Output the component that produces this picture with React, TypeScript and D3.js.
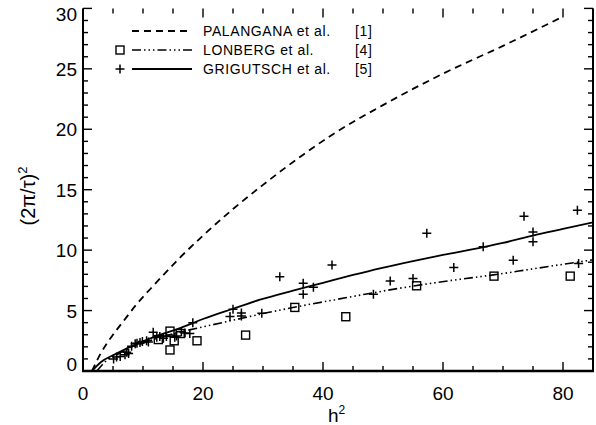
import React from "react";
import * as d3 from "d3";

const W = 596;
const H = 425;

const xMajorTicks = [0, 20, 40, 60, 80];
const yMajorTicks = [0, 5, 10, 15, 20, 25, 30];
const xMinorTicks = d3.range(0, 86, 5);
const yMinorTicks = d3.range(0, 31, 1);

const legendNames = ["PALANGANA et al.", "LONBERG et al.", "GRIGUTSCH et al."];
const legendRefs = ["[1]", "[4]", "[5]"];

// Palangana et al. fit curve (h^2, (2pi/tau)^2)
const palanganaCurve: [number, number][] = [
  [1.5, 0], [3, 1.5], [4, 2.3], [5, 3.0], [6.7, 4.1], [8.9, 5.5], [12, 7.2], [16, 9.3],
  [20, 11.2], [25, 13.4], [30, 15.4], [36.7, 17.9], [42, 19.7], [50, 22.0],
  [60, 24.6], [70, 26.9], [79.5, 29.2],
];

// Lonberg et al. fit curve
const lonbergCurve: [number, number][] = [
  [2.3, 0], [4, 0.9], [6, 1.45], [8, 1.95], [10, 2.3], [13, 2.8], [16, 3.2],
  [20, 3.65], [25, 4.2], [30, 4.75], [35, 5.25], [41.7, 5.87],
  [47, 6.35], [52.8, 6.85], [58, 7.25], [63, 7.6], [68.4, 7.95], [75, 8.45], [85, 9.2],
];

// Grigutsch et al. fit curve
const grigutschCurve: [number, number][] = [
  [1.5, 0], [3, 0.75], [5, 1.3], [7, 1.8], [9.5, 2.35], [12, 2.85], [16.2, 3.55],
  [20, 4.3], [25, 5.15], [29.5, 5.9], [35, 6.65], [40, 7.3], [45, 7.95],
  [49.5, 8.5], [55, 9.1], [60, 9.6], [66.7, 10.25], [70, 10.6], [75, 11.2],
  [80, 11.75], [85, 12.3],
];

// Lonberg et al. measurements (squares)
const lonbergH2 = [12.55, 14.5, 14.5, 15.2, 16.2, 19.0, 27.1, 35.3, 43.8, 55.6, 68.5, 81.2];
const lonbergY = [2.6, 3.3, 1.74, 2.5, 3.1, 2.5, 2.97, 5.26, 4.49, 7.05, 7.85, 7.85];

// Grigutsch et al. measurements (pluses)
const grigutschH2 = [
  5.1, 5.6, 6.2, 7.0, 7.3, 7.6, 8.1, 8.7, 9.0, 9.5, 9.9, 10.6, 10.9, 11.7, 12.3,
  12.8, 13.4, 13.9, 15.3, 15.6, 16.4, 17.0, 17.8, 18.3, 24.5, 25.0, 26.4, 26.4,
  29.8, 32.8, 36.7, 36.7, 38.4, 41.5, 48.4, 51.2, 55.0, 57.3, 61.8, 66.7, 71.7,
  73.5, 75.0, 75.0, 82.4, 82.6,
];
const grigutschY = [
  1.0, 1.15, 1.2, 1.35, 1.55, 1.45, 2.05, 2.25, 2.3, 2.35, 2.45, 2.5, 2.4, 3.2, 2.8,
  2.85, 2.7, 2.85, 2.8, 2.9, 3.25, 3.15, 3.1, 4.0, 4.5, 5.1, 4.55, 4.8,
  4.77, 7.8, 7.25, 6.36, 6.92, 8.76, 6.36, 7.45, 7.66, 11.4, 8.57, 10.27, 9.17,
  12.8, 11.5, 10.7, 13.3, 8.9,
];

export default function App() {
  const left = 83;
  const right = 593;
  const top = 8.4;
  const bottom = 371;
  const x = d3.scaleLinear().domain([0, 85]).range([left, right]);
  const y = d3.scaleLinear().domain([0, 30]).range([bottom, top]);

  const line = d3
    .line<[number, number]>()
    .x((d) => x(d[0]))
    .y((d) => y(d[1]))
    .curve(d3.curveMonotoneX);

  const font = "'Liberation Sans', Arial, sans-serif";
  const majorLen = 9;
  const minorLen = 5;

  const plusPath = (cx: number, cy: number, s: number) =>
    `M${cx - s},${cy}H${cx + s}M${cx},${cy - s}V${cy + s}`;

  return (
    <svg
      width={W}
      height={H}
      viewBox={`0 0 ${W} ${H}`}
      style={{ position: "absolute", left: 0, top: 0, background: "#fff" }}
    >
      <defs>
        <clipPath id="plot">
          <rect x={left} y={0} width={right - left} height={bottom} />
        </clipPath>
      </defs>
      <rect x={0} y={0} width={W} height={H} fill="#fff" />

      {/* curves */}
      <g clipPath="url(#plot)" fill="none" stroke="#000">
        <path d={line(palanganaCurve) || ""} strokeWidth={1.8} strokeDasharray="7,5" />
        <path d={line(lonbergCurve) || ""} strokeWidth={1.6} strokeDasharray="9,3,1.5,3,1.5,3,1.5,3" />
        <path d={line(grigutschCurve) || ""} strokeWidth={1.8} />
      </g>

      {/* squares */}
      <g fill="none" stroke="#000" strokeWidth={1.4}>
        {lonbergH2.map((h, i) => (
          <rect key={i} x={x(h) - 4} y={y(lonbergY[i]) - 4} width={8} height={8} />
        ))}
      </g>
      {/* pluses */}
      <g fill="none" stroke="#000" strokeWidth={1.5}>
        {grigutschH2.map((h, i) => (
          <path key={i} d={plusPath(x(h), y(grigutschY[i]), 4.5)} />
        ))}
      </g>

      {/* axes frame */}
      <g stroke="#000" fill="none">
        <line x1={left} x2={left} y1={top} y2={bottom} strokeWidth={2} />
        <line x1={right} x2={right} y1={top} y2={bottom} strokeWidth={2} />
        <line x1={left - 1} x2={right + 1} y1={bottom} y2={bottom} strokeWidth={2.4} />
        {xMinorTicks.map((t) => {
          const len = xMajorTicks.includes(t) ? majorLen : minorLen;
          return (
            <g key={"xt" + t}>
              <line x1={x(t)} x2={x(t)} y1={bottom} y2={bottom - len} strokeWidth={1.4} />
              <line x1={x(t)} x2={x(t)} y1={top} y2={top + len} strokeWidth={1.4} />
            </g>
          );
        })}
        {yMinorTicks.map((t) => {
          const len = yMajorTicks.includes(t) ? majorLen : minorLen;
          return (
            <g key={"yt" + t}>
              <line x1={left} x2={left + len} y1={y(t)} y2={y(t)} strokeWidth={1.4} />
              <line x1={right} x2={right - len} y1={y(t)} y2={y(t)} strokeWidth={1.4} />
            </g>
          );
        })}
      </g>

      {/* tick labels */}
      <g fontFamily={font} fontSize={19} fill="#000">
        {xMajorTicks.map((t) => (
          <text key={"xl" + t} x={x(t)} y={400} textAnchor="middle">
            {t}
          </text>
        ))}
        {yMajorTicks.map((t) => {
          let yy = y(t) + 7;
          if (t === 30) yy = 21;
          if (t === 0) yy = 371;
          return (
            <text key={"yl" + t} x={77} y={yy} textAnchor="end">
              {t}
            </text>
          );
        })}
      </g>

      {/* axis titles */}
      <text x={328} y={422} fontFamily={font} fontSize={19}>
        h<tspan dy={-8} fontSize={12}>2</tspan>
      </text>
      <text
        transform={`translate(35,196) rotate(-90)`}
        textAnchor="middle"
        fontFamily={font}
        fontSize={20}
      >
        (2π/τ)<tspan dy={-8} fontSize={13}>2</tspan>
      </text>

      {/* legend */}
      <g fontFamily={font} fontSize={14} fill="#000" letterSpacing={0.6}>
        {legendNames.map((n, i) => (
          <g key={"lg" + i}>
            <text x={203} y={36 + i * 19}>{n}</text>
            <text x={355} y={36 + i * 19}>{legendRefs[i]}</text>
          </g>
        ))}
      </g>
      <g fill="none" stroke="#000">
        <line x1={132} x2={192} y1={31} y2={31} strokeWidth={1.8} strokeDasharray="7,5" />
        <line x1={132} x2={192} y1={50} y2={50} strokeWidth={1.6} strokeDasharray="9,3,1.5,3,1.5,3,1.5,3" />
        <line x1={132} x2={192} y1={69} y2={69} strokeWidth={1.8} />
        <rect x={116} y={46} width={8} height={8} strokeWidth={1.4} />
        <path d={plusPath(120, 69, 4.5)} strokeWidth={1.5} />
      </g>
    </svg>
  );
}
